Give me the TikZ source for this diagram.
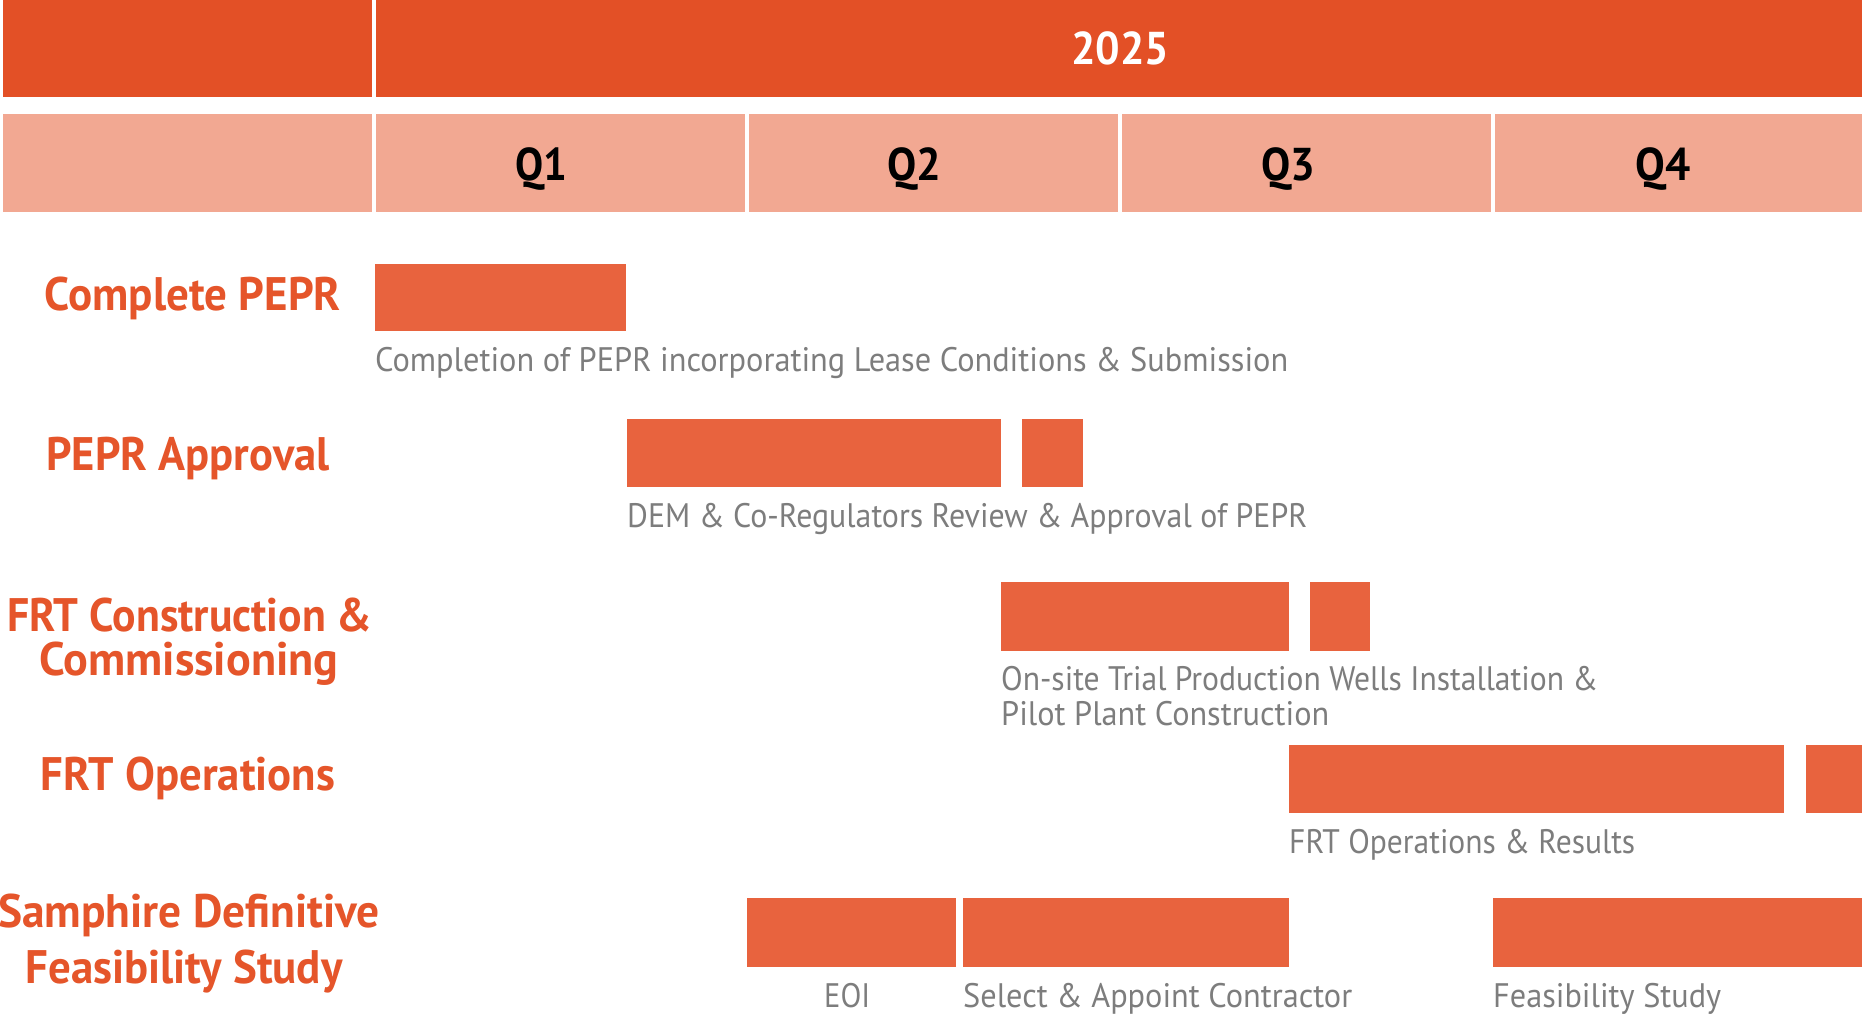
\documentclass[tikz,border=0pt]{standalone}
\usepackage{fontspec}
\setmainfont{PT Sans}
\usepackage{graphicx}
\definecolor{headc}{HTML}{E35026}
\definecolor{quartc}{HTML}{F2A892}
\definecolor{barc}{HTML}{E8633E}
\definecolor{labc}{HTML}{E5552A}
\definecolor{descc}{HTML}{7D7D7D}
\newcommand{\fitw}[2]{\resizebox{#1pt}{\height}{#2}}
\begin{document}
\begin{tikzpicture}[x=1pt,y=-1pt,
  cell/.style={inner sep=0pt,outer sep=0pt,anchor=north west,draw=none},
  headcell/.style={cell,fill=headc},
  qcell/.style={cell,fill=quartc},
  bar/.style={cell,fill=barc},
  desc/.style={text=descc,font=\fontsize{34}{40}\selectfont,inner sep=0pt,anchor=base west},
  lab/.style={text=labc,font=\bfseries\fontsize{47}{56}\selectfont,inner sep=0pt,anchor=base},
  qlab/.style={text=black,font=\bfseries\fontsize{46}{54}\selectfont,inner sep=0pt,anchor=base}]
\useasboundingbox (0,0) rectangle (1862,1014);
\fill[white] (0,0) rectangle (1862,1014);
% header
\node[headcell,minimum width=369pt,minimum height=97pt] (hl) at (3,0) {};
\node[headcell,minimum width=1488pt,minimum height=97pt] (hr) at (376,0) {};
\node[text=white,font=\bfseries\fontsize{46}{54}\selectfont,inner sep=0pt,anchor=base] (year) at (1120,65) {\fitw{98}{2025}};
% quarter row
\node[qcell,minimum width=369pt,minimum height=98pt] (q0) at (3,114) {};
\node[qcell,minimum width=369pt,minimum height=98pt] (q1) at (376,114) {};
\node[qcell,minimum width=369pt,minimum height=98pt] (q2) at (749,114) {};
\node[qcell,minimum width=369pt,minimum height=98pt] (q3) at (1122,114) {};
\node[qcell,minimum width=369pt,minimum height=98pt] (q4) at (1495,114) {};
\node[qlab] (q1t) at (541,180) {\fitw{52}{Q1}};
\node[qlab] (q2t) at (914,180) {\fitw{54}{Q2}};
\node[qlab] (q3t) at (1288,180) {\fitw{54}{Q3}};
\node[qlab] (q4t) at (1663,180) {\fitw{55}{Q4}};
% row labels
\node[lab] (l1) at (193,310) {\fitw{296}{Complete PEPR}};
\node[lab] (l2) at (188,470) {\fitw{283}{PEPR Approval}};
\node[lab] (l3a) at (190,631) {\fitw{365}{FRT Construction \&}};
\node[lab] (l3b) at (189,675) {\fitw{299}{Commissioning}};
\node[lab] (l4) at (188,790) {\fitw{294}{FRT Operations}};
\node[lab] (l5a) at (189,927) {\fitw{382}{Samphire Definitive}};
\node[lab] (l5b) at (184,983) {\fitw{317}{Feasibility Study}};
% bars
\node[bar,minimum width=251pt,minimum height=67pt] (b1) at (375,264) {};
\node[bar,minimum width=374pt,minimum height=68pt] (b2a) at (627,419) {};
\node[bar,minimum width=61pt,minimum height=68pt] (b2b) at (1022,419) {};
\node[bar,minimum width=288pt,minimum height=69pt] (b3a) at (1001,582) {};
\node[bar,minimum width=60pt,minimum height=69pt] (b3b) at (1310,582) {};
\node[bar,minimum width=495pt,minimum height=68pt] (b4a) at (1289,745) {};
\node[bar,minimum width=60pt,minimum height=68pt] (b4b) at (1806,745) {};
\node[bar,minimum width=209pt,minimum height=69pt] (b5a) at (747,898) {};
\node[bar,minimum width=326pt,minimum height=69pt] (b5b) at (963,898) {};
\node[bar,minimum width=372pt,minimum height=69pt] (b5c) at (1493,898) {};
% descriptions
\node[desc] (d1) at (375,371) {\fitw{913}{Completion of PEPR incorporating Lease Conditions \& Submission}};
\node[desc] (d2) at (627,527) {\fitw{680}{DEM \& Co-Regulators Review \& Approval of PEPR}};
\node[desc] (d3a) at (1001,690) {\fitw{597}{On-site Trial Production Wells Installation \&}};
\node[desc] (d3b) at (1001,725) {\fitw{328}{Pilot Plant Construction}};
\node[desc] (d4) at (1289,853) {\fitw{346}{FRT Operations \& Results}};
\node[desc] (d5a) at (824,1007) {\fitw{46}{EOI}};
\node[desc] (d5b) at (963,1007) {\fitw{389}{Select \& Appoint Contractor}};
\node[desc] (d5c) at (1493,1007) {\fitw{228}{Feasibility Study}};
\end{tikzpicture}
\end{document}
